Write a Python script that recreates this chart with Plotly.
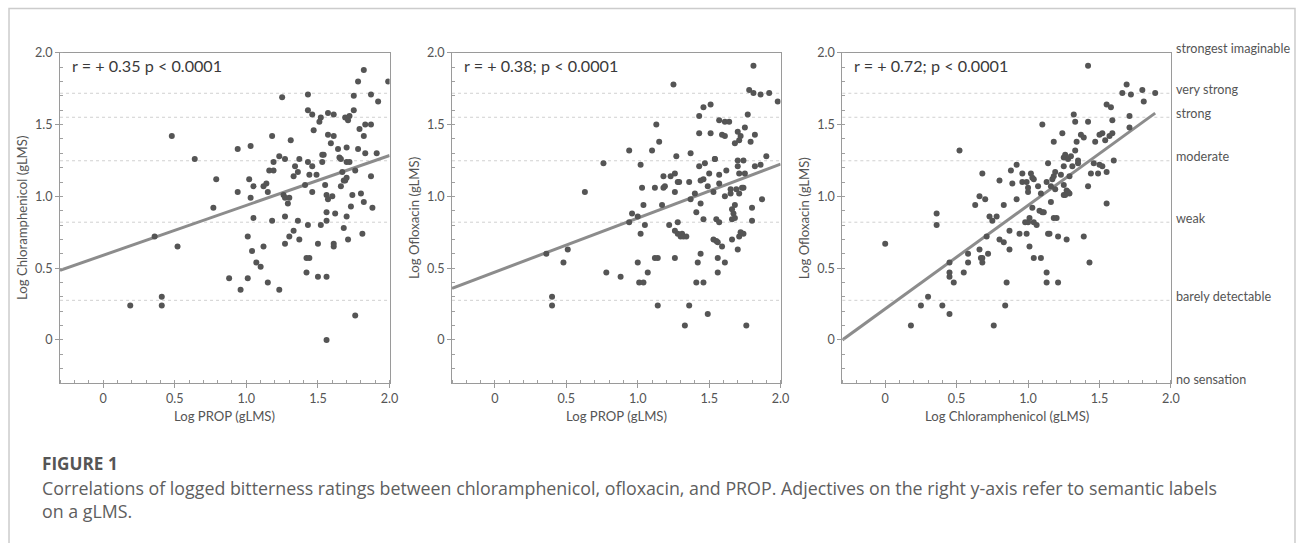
import plotly.graph_objects as go

# ---------------- data ----------------
# Panel 1: Log PROP (x) vs Log Chloramphenicol (y)
p1_x = [0.19, 0.36, 0.41, 0.41, 0.48, 0.52, 0.64, 0.77, 0.79, 0.88, 0.94, 0.94, 0.96, 1.01, 1.01, 1.02,
        1.03, 1.03, 1.04, 1.05, 1.05, 1.07, 1.10, 1.12, 1.12, 1.14, 1.15, 1.15, 1.16, 1.18, 1.18, 1.19,
        1.19, 1.23, 1.23, 1.25, 1.26, 1.27, 1.27, 1.27, 1.27, 1.29, 1.30, 1.30, 1.31, 1.33, 1.33, 1.34,
        1.36, 1.36, 1.37, 1.37, 1.41, 1.42, 1.42, 1.43, 1.43, 1.43, 1.43, 1.44, 1.44, 1.46, 1.46, 1.46,
        1.47, 1.49, 1.50, 1.50, 1.51, 1.52, 1.52, 1.53, 1.53, 1.54, 1.55, 1.56, 1.56, 1.56, 1.56, 1.56,
        1.57, 1.57, 1.57, 1.59, 1.60, 1.61, 1.61, 1.61, 1.61, 1.62, 1.64, 1.65, 1.66, 1.66, 1.67, 1.68,
        1.68, 1.69, 1.69, 1.70, 1.70, 1.70, 1.70, 1.71, 1.71, 1.72, 1.72, 1.73, 1.74, 1.75, 1.75, 1.76,
        1.76, 1.78, 1.78, 1.79, 1.80, 1.81, 1.82, 1.82, 1.82, 1.83, 1.83, 1.87, 1.87, 1.87, 1.88, 1.91,
        1.92, 1.99]
p1_y = [0.24, 0.72, 0.30, 0.24, 1.42, 0.65, 1.26, 0.92, 1.12, 0.43, 1.33, 1.03, 0.35, 0.72, 0.43, 1.12,
        1.35, 0.99, 0.62, 1.07, 0.85, 0.54, 0.51, 0.65, 1.07, 1.09, 1.03, 0.40, 1.18, 0.83, 1.42, 1.24,
        1.18, 1.28, 0.35, 1.69, 1.01, 0.99, 0.86, 0.67, 1.26, 0.95, 0.99, 0.72, 1.39, 1.14, 0.76, 1.21,
        1.17, 0.83, 1.26, 0.70, 1.08, 0.47, 0.57, 1.24, 0.80, 1.71, 1.60, 1.15, 0.57, 1.57, 1.21, 1.03,
        1.46, 1.15, 0.67, 0.44, 1.52, 1.55, 0.80, 1.24, 1.29, 1.29, 1.08, 1.01, 0.83, 0.44, 0.00, 0.89,
        1.58, 1.43, 0.98, 1.37, 1.00, 1.57, 1.42, 0.67, 0.65, 0.88, 1.33, 1.27, 1.26, 1.07, 1.17, 1.11,
        0.78, 1.55, 1.11, 1.34, 1.24, 1.13, 0.86, 0.70, 1.53, 1.24, 1.56, 0.93, 1.01, 1.70, 1.60, 1.18,
        0.17, 1.33, 1.80, 1.47, 1.02, 0.74, 1.88, 1.42, 0.96, 1.50, 1.30, 1.71, 1.50, 1.14, 0.92, 1.30,
        1.66, 1.80]

# Panel 2: Log PROP (x) vs Log Ofloxacin (y)
p2_x = [0.36, 0.40, 0.40, 0.48, 0.51, 0.63, 0.76, 0.78, 0.88, 0.94, 0.94, 0.96, 1.00, 1.00, 1.01, 1.02,
        1.02, 1.03, 1.04, 1.04, 1.05, 1.07, 1.10, 1.12, 1.12, 1.13, 1.14, 1.14, 1.15, 1.17, 1.18, 1.18,
        1.19, 1.23, 1.22, 1.25, 1.26, 1.26, 1.26, 1.26, 1.27, 1.28, 1.28, 1.28, 1.29, 1.30, 1.31, 1.32,
        1.33, 1.34, 1.36, 1.36, 1.37, 1.37, 1.40, 1.41, 1.41, 1.42, 1.43, 1.43, 1.43, 1.44, 1.44, 1.44,
        1.46, 1.46, 1.46, 1.46, 1.47, 1.49, 1.49, 1.50, 1.51, 1.51, 1.53, 1.53, 1.54, 1.54, 1.55, 1.55,
        1.56, 1.56, 1.56, 1.57, 1.57, 1.57, 1.57, 1.59, 1.59, 1.61, 1.61, 1.61, 1.61, 1.62, 1.64, 1.65,
        1.65, 1.66, 1.66, 1.66, 1.67, 1.68, 1.68, 1.68, 1.69, 1.70, 1.70, 1.70, 1.70, 1.71, 1.71, 1.71,
        1.71, 1.72, 1.72, 1.73, 1.74, 1.74, 1.74, 1.75, 1.75, 1.76, 1.77, 1.78, 1.79, 1.80, 1.80, 1.81,
        1.81, 1.82, 1.82, 1.86, 1.86, 1.87, 1.90, 1.92, 1.98]
p2_y = [0.60, 0.30, 0.24, 0.54, 0.63, 1.03, 1.23, 0.47, 0.44, 1.32, 0.82, 0.88, 0.86, 0.54, 0.40, 1.22,
        0.74, 1.06, 0.94, 0.40, 0.80, 0.47, 1.32, 1.06, 0.57, 1.50, 0.57, 0.24, 1.38, 0.94, 1.06, 1.14,
        1.07, 1.14, 0.80, 1.78, 1.16, 1.03, 0.57, 0.76, 1.28, 0.82, 1.10, 0.74, 1.10, 0.72, 0.74, 0.72,
        0.10, 0.72, 0.24, 1.10, 1.30, 0.98, 1.02, 0.89, 0.40, 0.54, 1.44, 1.56, 1.21, 0.95, 0.60, 1.11,
        1.62, 1.12, 0.84, 0.40, 1.23, 1.07, 0.18, 1.16, 1.44, 1.64, 1.03, 0.70, 1.26, 1.26, 0.69, 0.84,
        0.47, 0.57, 0.68, 0.82, 1.09, 1.53, 1.15, 1.43, 0.65, 1.42, 0.54, 1.00, 1.52, 1.18, 1.52, 1.05,
        1.02, 0.84, 0.70, 0.91, 0.88, 0.94, 0.85, 1.37, 1.05, 1.21, 1.25, 0.63, 1.45, 1.16, 0.72, 1.02,
        1.39, 1.42, 0.75, 1.06, 1.06, 0.74, 1.25, 1.48, 1.16, 0.10, 1.57, 1.74, 1.38, 0.92, 0.83, 1.91,
        1.72, 1.43, 1.21, 1.71, 1.22, 0.98, 1.28, 1.72, 1.66]

# Panel 3: Log Chloramphenicol (x) vs Log Ofloxacin (y)
p3_x = [0.00, 0.18, 0.25, 0.30, 0.36, 0.36, 0.40, 0.45, 0.45, 0.45, 0.45, 0.48, 0.52, 0.55, 0.58, 0.58,
        0.63, 0.66, 0.66, 0.67, 0.68, 0.68, 0.68, 0.70, 0.71, 0.72, 0.73, 0.75, 0.76, 0.78, 0.80, 0.80,
        0.83, 0.83, 0.84, 0.85, 0.87, 0.87, 0.88, 0.89, 0.92, 0.92, 0.94, 0.96, 0.96, 0.98, 0.99, 0.99,
        1.00, 1.00, 1.00, 1.01, 1.01, 1.02, 1.03, 1.03, 1.04, 1.04, 1.04, 1.06, 1.07, 1.08, 1.09, 1.09,
        1.10, 1.10, 1.11, 1.13, 1.13, 1.13, 1.14, 1.14, 1.15, 1.16, 1.16, 1.17, 1.18, 1.18, 1.18, 1.19,
        1.19, 1.20, 1.21, 1.21, 1.23, 1.24, 1.25, 1.25, 1.25, 1.25, 1.26, 1.26, 1.27, 1.27, 1.28, 1.28,
        1.29, 1.29, 1.30, 1.31, 1.32, 1.33, 1.33, 1.34, 1.35, 1.35, 1.37, 1.39, 1.39, 1.42, 1.42, 1.42,
        1.43, 1.44, 1.46, 1.47, 1.49, 1.50, 1.50, 1.52, 1.52, 1.54, 1.55, 1.55, 1.55, 1.57, 1.58, 1.59,
        1.59, 1.60, 1.66, 1.69, 1.71, 1.71, 1.72, 1.80, 1.81, 1.89]
p3_y = [0.67, 0.10, 0.24, 0.30, 0.88, 0.80, 0.24, 0.54, 0.47, 0.44, 0.18, 0.40, 1.32, 0.47, 0.60, 0.54,
        0.94, 1.00, 0.63, 0.57, 0.54, 1.16, 0.57, 0.98, 0.72, 0.60, 0.86, 0.83, 0.10, 0.86, 1.11, 0.70,
        0.94, 0.68, 0.24, 0.40, 0.63, 0.76, 1.18, 1.09, 1.22, 0.98, 0.74, 1.16, 1.10, 0.82, 1.10, 0.74,
        1.03, 1.06, 0.82, 0.65, 0.85, 1.16, 0.92, 1.13, 0.82, 0.57, 1.12, 0.80, 1.07, 0.90, 0.57, 1.02,
        1.50, 0.89, 0.89, 0.47, 0.40, 1.10, 0.74, 1.23, 0.74, 1.07, 0.96, 1.12, 0.85, 1.38, 1.14, 1.17,
        1.05, 0.85, 0.40, 0.72, 1.15, 1.44, 1.21, 1.27, 1.08, 1.01, 1.29, 1.01, 0.70, 1.04, 1.26, 1.03,
        1.14, 1.02, 1.28, 1.21, 1.57, 1.52, 1.32, 1.38, 1.25, 1.23, 1.43, 0.72, 1.41, 1.91, 1.52, 1.07,
        0.54, 1.16, 1.23, 1.38, 1.16, 1.22, 1.43, 1.44, 1.21, 1.39, 1.17, 0.95, 1.64, 1.42, 1.62, 1.53,
        1.44, 1.25, 1.72, 1.78, 1.56, 1.48, 1.71, 1.74, 1.66, 1.72]

# regression line end points (x, y) per panel
fit1_x = [-0.3, 2.0]
fit1_y = [0.485, 1.285]
fit2_x = [-0.3, 2.0]
fit2_y = [0.36, 1.225]
fit3_x = [-0.3, 1.89]
fit3_y = [0.0, 1.58]

stat_labels = ["r = + 0.35 p < 0.0001", "r = + 0.38; p < 0.0001", "r = + 0.72; p < 0.0001"]
x_titles = ["Log PROP (gLMS)", "Log PROP (gLMS)", "Log Chloramphenicol (gLMS)"]
y_titles = ["Log Chloramphenicol (gLMS)", "Log Ofloxacin (gLMS)", "Log Ofloxacin (gLMS)"]

tick_vals = [0, 0.5, 1.0, 1.5, 2.0]
tick_text = ["0", "0.5", "1.0", "1.5", "2.0"]

# gLMS semantic labels (log values)
glms_labels = ["strongest imaginable", "very strong", "strong", "moderate", "weak",
               "barely detectable", "no sensation"]
glms_log = [2.0, 1.718, 1.551, 1.248, 0.82, 0.276, -0.3]

caption_title = "FIGURE 1"
caption_text = ("Correlations of logged bitterness ratings between chloramphenicol, ofloxacin, and PROP. "
                "Adjectives on the right y-axis refer to semantic labels<br>on a gLMS.")

# ---------------- figure ----------------
W, H = 1306, 543
SX = W / 1296.0          # horizontal compensation
SY = 551.0 / 543.0       # vertical compensation
OY = 7.9


def PX(x):   # target screen x -> paper fraction
    return x * SX / W


def PY(y):   # target screen y -> paper fraction
    return 1 - (y - OY) * SY / H


FONT = "Lato"
TXT = "#555555"
FS = 1.01

panels = [
    (p1_x, p1_y, fit1_x, fit1_y, (60, 389.3)),
    (p2_x, p2_y, fit2_x, fit2_y, (451.7, 780)),
    (p3_x, p3_y, fit3_x, fit3_y, (841.7, 1170)),
]
ytop, ybot = 52.7, 383.0

fig = go.Figure()
layout = dict(
    width=W, height=H, margin=dict(l=0, r=0, t=0, b=0),
    paper_bgcolor="white", plot_bgcolor="white", showlegend=False,
    font=dict(family=FONT, color=TXT, size=12),
)
shapes = []
annotations = []

for i, (px, py, fx, fy, (xl, xr)) in enumerate(panels):
    n = i + 1
    xa = "x" if n == 1 else f"x{n}"
    ya = "y" if n == 1 else f"y{n}"
    fig.add_trace(go.Scatter(x=fx, y=fy, mode="lines", xaxis=xa, yaxis=ya,
                             line=dict(color="#8c8c8c", width=3), hoverinfo="skip"))
    fig.add_trace(go.Scatter(x=px, y=py, mode="markers", xaxis=xa, yaxis=ya,
                             marker=dict(color="#555555", size=6, line=dict(width=0))))
    axis_common = dict(
        range=[-0.3, 2.0], showgrid=False, zeroline=False,
        showline=True, linecolor="#9a9a9a", linewidth=1, mirror=True,
        tickmode="array", tickvals=tick_vals, ticktext=tick_text,
        ticks="outside", ticklen=4, tickcolor="#9a9a9a",
        tickfont=dict(family=FONT, size=12.5 * FS, color=TXT),
        minor=dict(tickmode="linear", tick0=0, dtick=0.1, ticks="inside", ticklen=3,
                   tickcolor="#a0a0a0", showgrid=False),
    )
    xkey = "xaxis" if n == 1 else f"xaxis{n}"
    ykey = "yaxis" if n == 1 else f"yaxis{n}"
    layout[xkey] = dict(axis_common, domain=[PX(xl), PX(xr)], anchor=ya)
    layout[ykey] = dict(axis_common, domain=[PY(ybot), PY(ytop)], anchor=xa)

    # dotted gLMS reference lines
    for v in glms_log[1:-1]:
        shapes.append(dict(type="line", xref=f"{xa} domain", yref=ya, x0=0, x1=1, y0=v, y1=v,
                           line=dict(color="#d0d0d0", width=1, dash="dot"), layer="below"))
    # stat label
    annotations.append(dict(text=stat_labels[i], xref=f"{xa} domain", yref=f"{ya} domain",
                            x=0.03, y=0.96, xanchor="left", yanchor="middle", showarrow=False,
                            font=dict(family=FONT, size=16 * FS, color="#3a3a3a")))
    # axis titles
    annotations.append(dict(text=x_titles[i], xref="paper", yref="paper",
                            x=PX((xl + xr) / 2), y=PY(416), xanchor="center", yanchor="middle",
                            showarrow=False, font=dict(family=FONT, size=13 * FS, color=TXT)))
    annotations.append(dict(text=y_titles[i], xref="paper", yref="paper",
                            x=PX(xl - 38), y=PY((ytop + ybot) / 2), xanchor="center",
                            yanchor="middle", textangle=-90, showarrow=False,
                            font=dict(family=FONT, size=13 * FS, color=TXT)))

# right-hand gLMS adjective labels
for lab, v in zip(glms_labels, glms_log):
    annotations.append(dict(text=lab, xref="paper", yref="y3", x=PX(1173), y=v,
                            xanchor="left", yanchor="middle", yshift=4, showarrow=False,
                            font=dict(family=FONT, size=12.5 * FS, color=TXT)))

# caption
annotations.append(dict(text=caption_title, xref="paper", yref="paper", x=PX(40), y=PY(463),
                        xanchor="left", yanchor="middle", showarrow=False,
                        font=dict(family="Open Sans", size=17 * FS, color="#555555", weight="bold")))
annotations.append(dict(text=caption_text, xref="paper", yref="paper", x=PX(40), y=PY(500),
                        xanchor="left", yanchor="middle", align="left", showarrow=False,
                        font=dict(family="Open Sans", size=17.65 * FS, color="#5e5e5e")))

# outer card border
top_b = min(PY(7), 1 - 0.6 / H)
shapes.append(dict(type="path", xref="paper", yref="paper",
                   path=f"M {PX(9)},-0.1 L {PX(9)},{top_b} L {PX(1294)},{top_b} L {PX(1294)},-0.1",
                   line=dict(color="#cccccc", width=1.5)))

layout["shapes"] = shapes
layout["annotations"] = annotations
fig.update_layout(**layout)

pin_script = (
    "document.documentElement.style.margin='0';document.documentElement.style.padding='0';"
    "document.documentElement.style.overflow='hidden';"
    "document.body.style.margin='0';document.body.style.padding='0';document.body.style.overflow='hidden';"
    "var g=document.getElementById('{plot_id}');"
    "g.style.position='fixed';g.style.left='0px';g.style.top='0px';"
)
fig.write_html("out.html", config={"displayModeBar": False}, post_script=pin_script)
